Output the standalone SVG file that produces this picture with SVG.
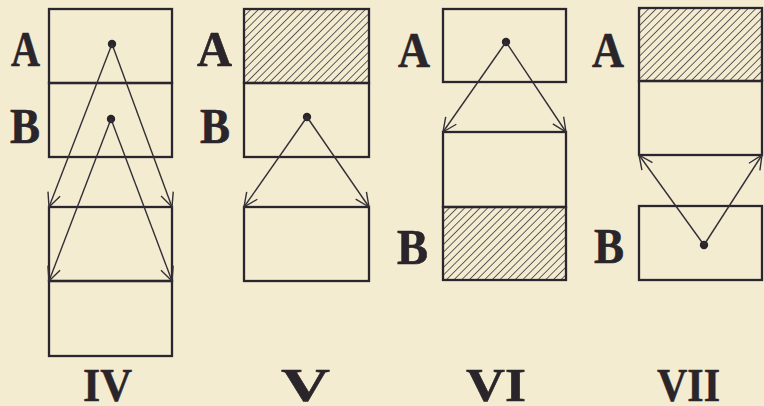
<svg xmlns="http://www.w3.org/2000/svg" width="764" height="406" viewBox="0 0 764 406">
  <style>
    .box { fill: none; stroke: #2a262d; stroke-width: 2.3; }
    .hatch { fill: url(#hatch); stroke: #2a262d; stroke-width: 2.3; }
    .lbl { font-family: "Liberation Serif", "DejaVu Serif", serif; font-weight: bold; font-size: 50px; fill: #29252a; stroke: #29252a; stroke-width: 0.6; }
    .num { font-family: "Liberation Serif", "DejaVu Serif", serif; font-weight: bold; font-size: 47px; fill: #29252a; stroke: #29252a; stroke-width: 0.5; }
    .dot { fill: #29252a; }
    .arr { fill: none; stroke: #332f37; stroke-width: 1.4; marker-end: url(#ah); }
  </style>
  <defs>
    <pattern id="hatch" patternUnits="userSpaceOnUse" width="5.4" height="5.4" patternTransform="rotate(45)">
      <line x1="0" y1="-1" x2="0" y2="7" stroke="#332f37" stroke-width="1.5"/>
    </pattern>
    <marker id="ah" markerUnits="userSpaceOnUse" markerWidth="20" markerHeight="20" refX="0" refY="0" viewBox="-16 -10 20 20" orient="auto" overflow="visible">
      <path d="M-14,-6.5 L0,0 L-14,6.5" fill="none" stroke="#332f37" stroke-width="1.4"/>
    </marker>
  </defs>
  <rect width="764" height="406" fill="#f4ecd1"/>

  <!-- Figure IV -->
  <g id="iv-A"><rect class="box" x="49" y="9" width="123" height="74"/><circle class="dot" cx="112" cy="44" r="4.2"/><text class="lbl" x="11" y="66" textLength="29" lengthAdjust="spacingAndGlyphs">A</text></g>
  <g id="iv-B"><rect class="box" x="49" y="83" width="123" height="74"/><circle class="dot" cx="111" cy="119" r="4.2"/><text class="lbl" x="10" y="143" textLength="30" lengthAdjust="spacingAndGlyphs">B</text></g>
  <g id="iv-C"><rect class="box" x="49" y="207" width="123" height="74"/></g>
  <g id="iv-D"><rect class="box" x="49" y="281" width="123" height="75"/></g>
  <text class="num" x="83" y="401" textLength="49" lengthAdjust="spacingAndGlyphs">IV</text>

  <!-- Figure V -->
  <g id="v-A"><rect class="hatch" x="244" y="9" width="125" height="74"/><text class="lbl" x="197" y="66" textLength="35" lengthAdjust="spacingAndGlyphs">A</text></g>
  <g id="v-B"><rect class="box" x="244" y="83" width="125" height="74"/><circle class="dot" cx="307" cy="117" r="4.2"/><text class="lbl" x="200" y="143" textLength="30" lengthAdjust="spacingAndGlyphs">B</text></g>
  <g id="v-C"><rect class="box" x="244" y="207" width="125" height="74"/></g>
  <text class="num" x="281" y="401" textLength="49" lengthAdjust="spacingAndGlyphs">V</text>

  <!-- Figure VI -->
  <g id="vi-A"><rect class="box" x="443" y="9" width="123" height="73"/><circle class="dot" cx="506" cy="42" r="4.2"/><text class="lbl" x="398" y="67" textLength="32" lengthAdjust="spacingAndGlyphs">A</text></g>
  <g id="vi-C"><rect class="box" x="443" y="132" width="123" height="75"/></g>
  <g id="vi-B"><rect class="hatch" x="443" y="207" width="123" height="73"/><text class="lbl" x="397" y="264" textLength="31" lengthAdjust="spacingAndGlyphs">B</text></g>
  <text class="num" x="466" y="401" textLength="60" lengthAdjust="spacingAndGlyphs">VI</text>

  <!-- Figure VII -->
  <g id="vii-A"><rect class="hatch" x="639" y="8" width="123" height="73"/><text class="lbl" x="592" y="67" textLength="32" lengthAdjust="spacingAndGlyphs">A</text></g>
  <g id="vii-C"><rect class="box" x="639" y="81" width="123" height="74"/></g>
  <g id="vii-B"><rect class="box" x="639" y="206" width="123" height="74"/><circle class="dot" cx="704" cy="245" r="4.2"/><text class="lbl" x="594" y="263" textLength="30" lengthAdjust="spacingAndGlyphs">B</text></g>
  <text class="num" x="657" y="401" textLength="63" lengthAdjust="spacingAndGlyphs">VII</text>

  <!-- Connectors -->
  <g id="connectors">
    <line class="arr" x1="112" y1="44" x2="49" y2="207"/>
    <line class="arr" x1="112" y1="44" x2="172" y2="207"/>
    <line class="arr" x1="111" y1="119" x2="49" y2="281"/>
    <line class="arr" x1="111" y1="119" x2="172" y2="281"/>
    <line class="arr" x1="307" y1="117" x2="244" y2="207"/>
    <line class="arr" x1="307" y1="117" x2="369" y2="207"/>
    <line class="arr" x1="506" y1="42" x2="443" y2="132"/>
    <line class="arr" x1="506" y1="42" x2="566" y2="132"/>
    <line class="arr" x1="704" y1="245" x2="639" y2="155"/>
    <line class="arr" x1="704" y1="245" x2="762" y2="155"/>
  </g>
</svg>
